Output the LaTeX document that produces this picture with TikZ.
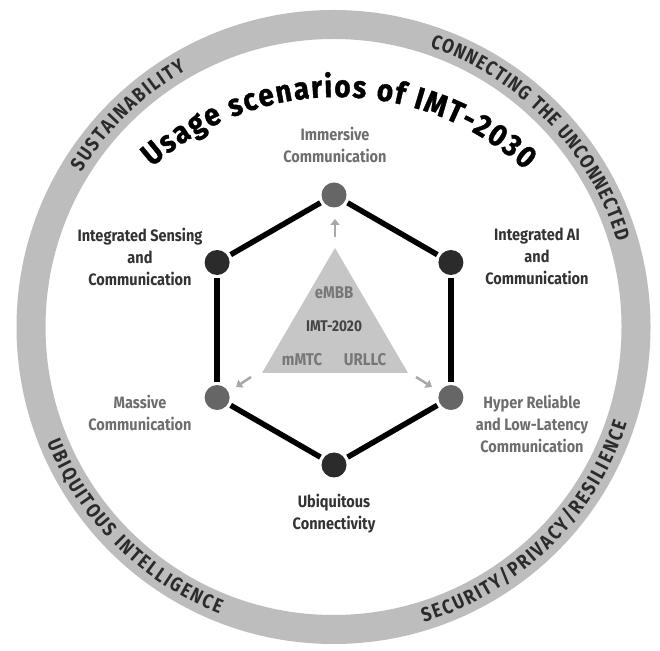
\documentclass[tikz,border=0pt]{standalone}
\usepackage{fontspec}
\setmainfont{Fira Sans}
\newfontfamily\condfam{Fira Sans}[FakeStretch=0.88]
\newfontfamily\ringfam{Fira Sans}[FakeStretch=0.85]
\newfontfamily\titlefam{Fira Sans}[FakeStretch=0.9, BoldFeatures={FakeBold=1.2}]
\usetikzlibrary{decorations.text,arrows.meta}
\definecolor{ringgray}{HTML}{BDBDBD}
\definecolor{ringtext}{HTML}{2B2B2B}
\definecolor{labdark}{HTML}{333333}
\definecolor{labgray}{HTML}{6E6E6E}
\definecolor{nodedark}{HTML}{2B2B2B}
\definecolor{nodegray}{HTML}{666666}
\definecolor{trigray}{HTML}{C6C6C6}
\definecolor{trimid}{HTML}{777777}
\definecolor{tridark}{HTML}{444444}
\definecolor{arrowgray}{HTML}{A8A8A8}
\newcommand\ringfnt{\ringfam\fontsize{20}{20}\selectfont\bfseries}
\newcommand\titlefnt{\titlefam\fontsize{31}{33}\selectfont\bfseries}
\tikzset{
  hexnode/.style={circle, minimum size=25pt, inner sep=0pt},
  hexdark/.style={hexnode, fill=nodedark},
  hexgray/.style={hexnode, fill=nodegray},
  hexline/.style={line width=5.5pt, black, shorten <=3pt, shorten >=3pt},
  lab/.style={align=center, inner sep=0pt, font=\condfam\fontsize{16.5}{22}\selectfont\bfseries},
  tritext/.style={inner sep=0pt, font=\condfam\fontsize{17}{18}\selectfont\bfseries, text=trimid},
  smallarrow/.style={arrowgray, line width=2.5pt, -{Triangle[length=6pt,width=9pt]}},
  ringtextstyle/.style={decorate, decoration={text along path, text align=fit to path, text color=ringtext, text={|\ringfnt|#1}}},
  titlestyle/.style={decorate, decoration={text along path, text align=fit to path, text color=black, text={|\titlefnt|#1}}}
}
\begin{document}
\begin{tikzpicture}[x=1pt,y=1pt]
\useasboundingbox (0,0) rectangle (660,650);
\fill[white] (0,0) rectangle (660,650);
\coordinate (C) at (333.5,323);
\draw[ringgray, line width=29pt] (C) circle[radius=302.5];
\begin{scope}[shift={(333.5,323)}]
  \path[ringtextstyle={SUSTAINABILITY}] (148.5:296) arc[start angle=148.5, end angle=119.8, radius=296];
  \path[ringtextstyle={CONNECTING THE UNCONNECTED}] (71:296) arc[start angle=71, end angle=16.8, radius=296];
  \path[ringtextstyle={UBIQUITOUS INTELLIGENCE}] (202:309) arc[start angle=202, end angle=248.3, radius=309];
  \path[ringtextstyle={SECURITY/PRIVACY/RESILIENCE}] (287:309) arc[start angle=287, end angle=341.8, radius=309];
\end{scope}
\begin{scope}[shift={(337,274)}]
  \path[titlestyle={Usage scenarios of IMT-2030}] (131.5:279) arc[start angle=131.5, end angle=47.6, radius=279];
\end{scope}
% triangle
\coordinate (tA) at (335,402);
\coordinate (tB) at (262,277);
\coordinate (tC) at (408,277);
\fill[trigray] (tA) -- (tB) -- (tC) -- cycle;
\node[tritext] (embb) at (334,357) {eMBB};
\node[tritext, text=tridark, font=\condfam\fontsize{15.5}{16}\selectfont\bfseries] (imt) at (334,324) {IMT-2020};
\node[tritext] (mmtc) at (302,290) {mMTC};
\node[tritext] (urllc) at (365,290) {URLLC};
% arrows
\coordinate (a1s) at (335,413); \coordinate (a1e) at (335,431);
\coordinate (a2s) at (251,273); \coordinate (a2e) at (236,263);
\coordinate (a3s) at (416,273); \coordinate (a3e) at (432,263);
\draw[smallarrow] (a1s) -- (a1e);
\draw[smallarrow] (a2s) -- (a2e);
\draw[smallarrow] (a3s) -- (a3e);
% hexagon
\node[hexgray] (imm) at (334,455) {};
\node[hexdark] (iai) at (450.9,387.5) {};
\node[hexgray] (hrl) at (450.9,252.5) {};
\node[hexdark] (ubi) at (334,185) {};
\node[hexgray] (mas) at (217.1,252.5) {};
\node[hexdark] (isc) at (217.1,387.5) {};
\draw[hexline] (imm) -- (iai);
\draw[hexline] (iai) -- (hrl);
\draw[hexline] (hrl) -- (ubi);
\draw[hexline] (ubi) -- (mas);
\draw[hexline] (mas) -- (isc);
\draw[hexline] (isc) -- (imm);
% labels
\node[lab, text=labgray] (immL) at (335,505) {Immersive\\Communication};
\node[lab, text=labdark] (iscL) at (140,393.5) {Integrated Sensing\\and\\Communication};
\node[lab, text=labgray] (masL) at (140,237.5) {Massive\\Communication};
\node[lab, text=labdark] (iaiL) at (537,393.5) {Integrated AI\\and\\Communication};
\node[lab, text=labgray] (hrlL) at (532,226.5) {Hyper Reliable\\and Low-Latency\\Communication};
\node[lab, text=labdark] (ubiL) at (334,136) {Ubiquitous\\Connectivity};
\end{tikzpicture}
\end{document}
